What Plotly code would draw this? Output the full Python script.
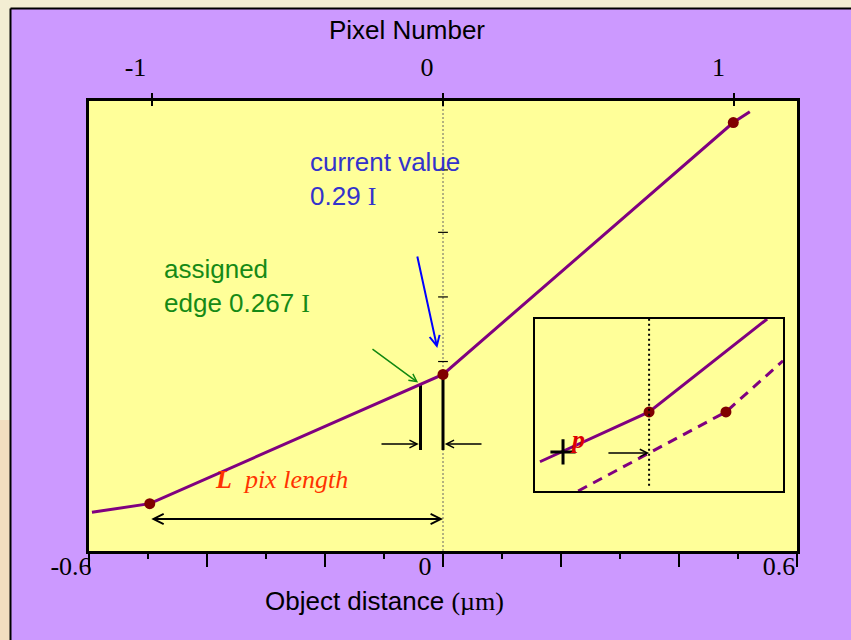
import numpy as np
import plotly.graph_objects as go

# Edge profile: object distance (µm) vs. recorded intensity (units of I)
obj_dist = [-0.595, -0.497, 0.0, 0.492, 0.52]
intensity = [-0.03, -0.01, 0.29, 0.875, 0.90]
sample_idx = [1, 2, 3]          # pixel centres carrying a sample dot

PIXEL_UM = 0.494                # pixel pitch in object space (µm)
pixel_ticks = [-1, 0, 1]
pixel_ticktext = ["-1", "0", "1"]
dist_ticks = [-0.6, -0.4, -0.2, 0.0, 0.2, 0.4, 0.6]
dist_ticktext = ["-0.6", "", "", "0", "", "", "0.6"]

current_value = 0.29
edge_value = 0.267
center_ticks = [0.32, 0.47, 0.62, 0.765]

# Inset: profile before (solid) and after (dashed) the sub-pixel shift
inset_solid_x = [-0.44, 0.0, 0.476]
inset_solid_y = [0.17, 0.46, 1.0]
inset_dash_x = [-0.286, 0.31, 0.54]
inset_dash_y = [0.0, 0.46, 0.757]
inset_dot_x = [0.0, 0.31]
inset_dot_y = [0.46, 0.46]
inset_plus = (-0.347, 0.227)

# ---- canvas geometry ----
W, H = 851, 640
ML, MR, MT, MB = 89, 54, 101, 89
PW, PH = W - ML - MR, H - MT - MB
X_RANGE = [-0.6, 0.6]
Y_RANGE = [-0.12, 0.925]
INSET_X = [-0.46, 0.54]
INSET_Y = [0.0, 1.0]


def paper_x(px):
    return (px - ML) / PW


def paper_y(py):
    return (H - MB - py) / PH


def data_x(px):
    return X_RANGE[0] + (px - ML) / PW * (X_RANGE[1] - X_RANGE[0])


def data_y(py):
    return Y_RANGE[0] + (H - MB - py) / PH * (Y_RANGE[1] - Y_RANGE[0])


SANS = "Liberation Sans, Arial, sans-serif"
SERIF = "Liberation Serif, Times New Roman, serif"
PURPLE = "#800080"
DOT = "#800000"

# assigned edge position: where the profile crosses the edge level
x_edge = float(np.interp(edge_value, intensity[1:3], obj_dist[1:3]))
bar_bottom = data_y(450)
arrow_y = data_y(444)
span_y = data_y(519)

fig = go.Figure()

# vertical markers at the assigned edge and at pixel 0
fig.add_trace(go.Scatter(
    x=[x_edge, x_edge, None, obj_dist[2], obj_dist[2]],
    y=[edge_value, bar_bottom, None, current_value, bar_bottom],
    mode="lines", line=dict(color="black", width=3),
    hoverinfo="skip", showlegend=False))

# profile
fig.add_trace(go.Scatter(
    x=obj_dist, y=intensity, mode="lines",
    line=dict(color=PURPLE, width=3), showlegend=False))
fig.add_trace(go.Scatter(
    x=[obj_dist[i] for i in sample_idx], y=[intensity[i] for i in sample_idx],
    mode="markers", marker=dict(color=DOT, size=11), showlegend=False))

# small ticks on the x = 0 reference line
fig.add_trace(go.Scatter(
    x=[0.0] * len(center_ticks), y=center_ticks, mode="markers",
    marker=dict(symbol="line-ew", size=7, line=dict(color="black", width=1.2)),
    hoverinfo="skip", showlegend=False))

# bind the pixel-number axes
for ax in ("x2", "x3"):
    fig.add_trace(go.Scatter(x=pixel_ticks, y=[None] * 3, xaxis=ax, yaxis="y",
                             mode="markers", hoverinfo="skip", showlegend=False))

# inset traces
fig.add_trace(go.Scatter(
    x=inset_solid_x, y=inset_solid_y, xaxis="x4", yaxis="y4", mode="lines",
    line=dict(color=PURPLE, width=3), showlegend=False))
fig.add_trace(go.Scatter(
    x=inset_dash_x, y=inset_dash_y, xaxis="x4", yaxis="y4", mode="lines",
    line=dict(color=PURPLE, width=3, dash="10px,7px"), showlegend=False))
fig.add_trace(go.Scatter(
    x=inset_dot_x, y=inset_dot_y, xaxis="x4", yaxis="y4", mode="markers",
    marker=dict(color=DOT, size=11), showlegend=False))
fig.add_trace(go.Scatter(
    x=[inset_plus[0]], y=[inset_plus[1]], xaxis="x4", yaxis="y4", mode="markers",
    marker=dict(symbol="cross-thin", size=18, line=dict(color="black", width=3)),
    showlegend=False))

dash_at0 = float(np.interp(0.0, inset_dash_x, inset_dash_y))

shapes = [
    # cream surround and the framed purple panel
    dict(type="rect", xref="paper", yref="paper",
         x0=paper_x(-2), x1=paper_x(W + 2), y0=paper_y(8.5), y1=paper_y(-2),
         fillcolor="#f3eed3", line=dict(width=0)),
    dict(type="rect", xref="paper", yref="paper",
         x0=paper_x(-2), x1=paper_x(10), y0=paper_y(H + 2), y1=paper_y(-2),
         fillcolor="#f3eed3", line=dict(width=0)),
    dict(type="rect", xref="paper", yref="paper",
         x0=paper_x(-2), x1=paper_x(10), y0=paper_y(640), y1=paper_y(420),
         fillcolor="#f2c9a8", opacity=0.45, line=dict(width=0)),
    dict(type="line", xref="paper", yref="paper",
         x0=paper_x(10.5), x1=paper_x(10.5), y0=paper_y(H + 2), y1=paper_y(8.5),
         line=dict(color="black", width=2)),
    dict(type="line", xref="paper", yref="paper",
         x0=paper_x(10.5), x1=paper_x(W + 2), y0=paper_y(8.5), y1=paper_y(8.5),
         line=dict(color="black", width=2)),
    # dotted reference line at x = 0
    dict(type="line", xref="x", yref="y domain", x0=0, x1=0, y0=0, y1=1,
         layer="below", line=dict(color="#666666", width=1, dash="2px,2px")),
    # dotted line in the inset
    dict(type="line", xref="x4", yref="y4 domain", x0=0, x1=0, y0=0.03, y1=1,
         line=dict(color="black", width=2, dash="2px,3px")),
]

ann = []
ann.append(dict(
    x=data_x(308), y=data_y(179), xref="x", yref="y", xanchor="left", yanchor="middle",
    align="left", showarrow=False,
    text=f"current value<br>{current_value:.2f} <span style='font-family:{SERIF}'>I</span>",
    font=dict(family=SANS, size=26, color="#3333cc")))
ann.append(dict(
    x=data_x(162), y=data_y(286), xref="x", yref="y", xanchor="left", yanchor="middle",
    align="left", showarrow=False,
    text=f"assigned<br>edge {edge_value:.3f} <span style='font-family:{SERIF}'>I</span>",
    font=dict(family=SANS, size=26, color="#168a16")))
ann.append(dict(
    x=data_x(213), y=data_y(479), xref="x", yref="y", xanchor="left", yanchor="middle",
    showarrow=False, text="<b><i>L</i></b>&nbsp;&nbsp;<i>pix length</i>",
    font=dict(family=SERIF, size=26, color="#ff3300")))
# pointer arrows
ann.append(dict(
    x=0.0, y=current_value, xref="x", yref="y", ax=data_x(417), ay=data_y(255),
    axref="x", ayref="y", text="", showarrow=True, standoff=27,
    arrowhead=5, arrowsize=1, arrowwidth=2, arrowcolor="#0000ff"))
ann.append(dict(
    x=x_edge, y=edge_value, xref="x", yref="y", ax=data_x(371), ay=data_y(348),
    axref="x", ayref="y", text="", showarrow=True, standoff=3,
    arrowhead=5, arrowsize=1, arrowwidth=1.5, arrowcolor="#118811"))
ann.append(dict(
    x=x_edge - 0.003, y=arrow_y, xref="x", yref="y", ax=data_x(380), ay=arrow_y,
    axref="x", ayref="y", text="", showarrow=True,
    arrowhead=5, arrowsize=1, arrowwidth=1.5, arrowcolor="black"))
ann.append(dict(
    x=0.003, y=arrow_y, xref="x", yref="y", ax=data_x(483), ay=arrow_y,
    axref="x", ayref="y", text="", showarrow=True,
    arrowhead=5, arrowsize=1, arrowwidth=1.5, arrowcolor="black"))
ann.append(dict(
    x=obj_dist[2], y=span_y, xref="x", yref="y", ax=obj_dist[1], ay=span_y,
    axref="x", ayref="y", text="", showarrow=True, arrowside="end+start",
    arrowhead=5, arrowsize=1, arrowwidth=2, arrowcolor="black"))
# inset shift arrow and label
ann.append(dict(
    x=0.0, y=dash_at0, xref="x4", yref="y4", ax=-0.17, ay=dash_at0,
    axref="x4", ayref="y4", text="", showarrow=True,
    arrowhead=5, arrowsize=1, arrowwidth=1.5, arrowcolor="black"))
ann.append(dict(
    x=-0.325, y=0.30, xref="x4", yref="y4", xanchor="left", yanchor="middle",
    showarrow=False, text="<b><i>p</i></b>",
    font=dict(family=SERIF, size=26, color="#dd0000")))
# bottom axis title
ann.append(dict(
    x=paper_x(384), y=paper_y(601), xref="paper", yref="paper",
    xanchor="center", yanchor="middle", showarrow=False,
    text=f"Object distance <span style='font-family:{SERIF}'>(µm)</span>",
    font=dict(family=SANS, size=26, color="black")))

fig.update_layout(
    width=W, height=H, autosize=False,
    margin=dict(l=ML, r=MR, t=MT, b=MB, pad=0),
    paper_bgcolor="#cc99ff", plot_bgcolor="#ffff99",
    showlegend=False, hovermode=False,
    title=dict(text="Pixel Number", x=407 / W, xref="container", xanchor="center",
               y=1 - 30 / H, yref="container", yanchor="middle",
               font=dict(family=SANS, size=26, color="black")),
    xaxis=dict(range=X_RANGE, tickmode="array", tickvals=dist_ticks, ticktext=dist_ticktext,
               ticks="outside", ticklen=13, tickwidth=1.5, tickcolor="black",
               minor=dict(tickmode="linear", tick0=0, dtick=0.1, ticks="outside",
                          ticklen=5, tickwidth=1.5, tickcolor="black"),
               showline=True, mirror=True, linewidth=3, linecolor="black",
               showgrid=False, zeroline=False,
               tickfont=dict(family=SERIF, size=26, color="black"),
               ticklabelshift=-18, ticklabelstandoff=-23),
    xaxis2=dict(overlaying="x", side="top", anchor="y",
                range=[X_RANGE[0] / PIXEL_UM, X_RANGE[1] / PIXEL_UM],
                tickmode="array", tickvals=pixel_ticks, ticktext=pixel_ticktext,
                ticks="outside", ticklen=7, tickwidth=1.5, tickcolor="black",
                showline=False, showgrid=False, zeroline=False,
                tickfont=dict(family=SERIF, size=26, color="black"),
                ticklabelshift=-16, ticklabelstandoff=7),
    xaxis3=dict(overlaying="x", side="top", anchor="y",
                range=[X_RANGE[0] / PIXEL_UM, X_RANGE[1] / PIXEL_UM],
                tickmode="array", tickvals=pixel_ticks,
                ticks="inside", ticklen=5, tickwidth=1.5, tickcolor="black",
                showticklabels=False, showline=False, showgrid=False, zeroline=False),
    yaxis=dict(range=Y_RANGE, showline=True, mirror=True, linewidth=3, linecolor="black",
               showticklabels=False, ticks="", showgrid=False, zeroline=False),
    xaxis4=dict(domain=[paper_x(535), paper_x(783)], anchor="y4", range=INSET_X,
                showline=True, mirror=True, linewidth=2, linecolor="black",
                showticklabels=False, ticks="", showgrid=False, zeroline=False),
    yaxis4=dict(domain=[paper_y(491), paper_y(319)], anchor="x4", range=INSET_Y,
                showline=True, mirror=True, linewidth=2, linecolor="black",
                showticklabels=False, ticks="", showgrid=False, zeroline=False),
    shapes=shapes,
    annotations=ann,
)

fig.write_html("out.html")
